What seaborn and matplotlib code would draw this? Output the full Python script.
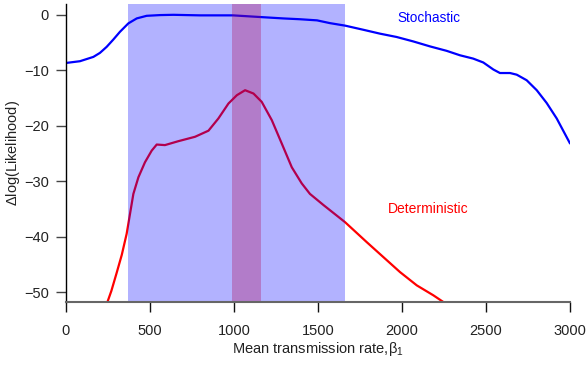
import matplotlib
matplotlib.use("Agg")
import matplotlib.pyplot as plt
import seaborn as sns
import pandas as pd

# Profile likelihood curves for the mean transmission rate
stoch_beta = [4, 83, 163, 202, 242, 282, 321, 371, 421, 480, 560, 639, 718, 798, 994, 1155,
              1292, 1393, 1494, 1571, 1661, 1770, 1869, 1968, 2067, 2167, 2266, 2345, 2424,
              2484, 2544, 2583, 2643, 2683, 2742, 2802, 2861, 2921, 3000]
stoch_ll = [-8.67, -8.37, -7.59, -6.87, -5.78, -4.45, -3.07, -1.55, -0.65, -0.18, -0.05, 0.0,
            -0.05, -0.1, -0.1, -0.4, -0.65, -0.8, -1.0, -1.5, -1.95, -2.7, -3.4, -4.0, -4.8,
            -5.7, -6.5, -7.3, -7.9, -8.6, -9.87, -10.5, -10.5, -10.8, -11.8, -13.6, -15.9,
            -18.7, -23.2]

det_beta = [242, 270, 301, 332, 361, 381, 401, 431, 470, 510, 540, 589, 668, 768, 848, 907,
            967, 1017, 1066, 1116, 1165, 1225, 1284, 1344, 1403, 1452, 1492, 1532, 1661, 1790,
            1889, 1988, 2088, 2187, 2246]
det_ll = [-52.2, -49.8, -46.6, -43.3, -39.5, -35.9, -32.3, -29.3, -26.6, -24.5, -23.4, -23.5,
          -22.8, -22.0, -20.9, -18.7, -16.0, -14.5, -13.6, -14.2, -15.7, -19.0, -23.2, -27.5,
          -30.4, -32.3, -33.3, -34.3, -37.4, -41.0, -43.7, -46.4, -48.8, -50.6, -51.8]

# Confidence intervals for beta_1
stoch_ci = (369, 1661)
det_ci = (988, 1161)

x_ticks = [0, 500, 1000, 1500, 2000, 2500, 3000]
y_ticks = [0, -10, -20, -30, -40, -50]

sns.set_theme(style="ticks")
plt.rcParams["font.family"] = ["Liberation Sans", "DejaVu Sans"]
plt.rcParams["mathtext.fontset"] = "custom"
plt.rcParams["mathtext.rm"] = "Liberation Sans"
plt.rcParams["mathtext.it"] = "Liberation Sans"

fig = plt.figure(figsize=(5.87, 3.66), dpi=100)
ax = fig.add_axes([66 / 587, 1 - 302 / 366, 504 / 587, 298 / 366])

stoch = pd.DataFrame({"beta": stoch_beta, "ll": stoch_ll})
det = pd.DataFrame({"beta": det_beta, "ll": det_ll})
sns.lineplot(data=stoch, x="beta", y="ll", color="#0000ff", lw=1.6, ax=ax)
sns.lineplot(data=det, x="beta", y="ll", color="#ff0000", lw=1.6, ax=ax)

ax.axvspan(*det_ci, color="#ff0000", alpha=0.3, lw=0, zorder=3)
ax.axvspan(*stoch_ci, color="#0000ff", alpha=0.3, lw=0, zorder=4)

ax.set_xlim(0, 3000)
ax.set_ylim(-51.8, 1.95)
ax.set_xticks(x_ticks)
ax.set_yticks(y_ticks)
ax.set_yticklabels(["0" if v == 0 else f"\u2212{abs(v)}" for v in y_ticks])

ax.spines["top"].set_visible(False)
ax.spines["right"].set_visible(False)
ax.spines["left"].set_color("black")
ax.spines["left"].set_linewidth(1.0)
ax.spines["bottom"].set_color("#666666")
ax.spines["bottom"].set_linewidth(1.5)
ax.spines["bottom"].set_zorder(5)
ax.tick_params(axis="both", colors="#444444", labelcolor="#222222", labelsize=10.5,
               length=7, width=1.0, direction="out")
ax.tick_params(axis="x", colors="#111111", labelcolor="#222222", pad=9)
ax.tick_params(axis="y", pad=5.5)

ax.set_xlabel("Mean transmission rate,$\\beta_1$", fontsize=10.5, color="#222222", labelpad=1)
ax.set_ylabel("$\\Delta$log(Likelihood)", fontsize=10.5, color="#222222")
ax.yaxis.set_label_coords(-0.087, 0.5)

ax.text(2161, -0.6, "Stochastic", color="#0000ff", fontsize=9.8, ha="center", va="center")
ax.text(2155, -35.1, "Deterministic", color="#ff0000", fontsize=10, ha="center", va="center")

fig.savefig("out.png", dpi=100)
